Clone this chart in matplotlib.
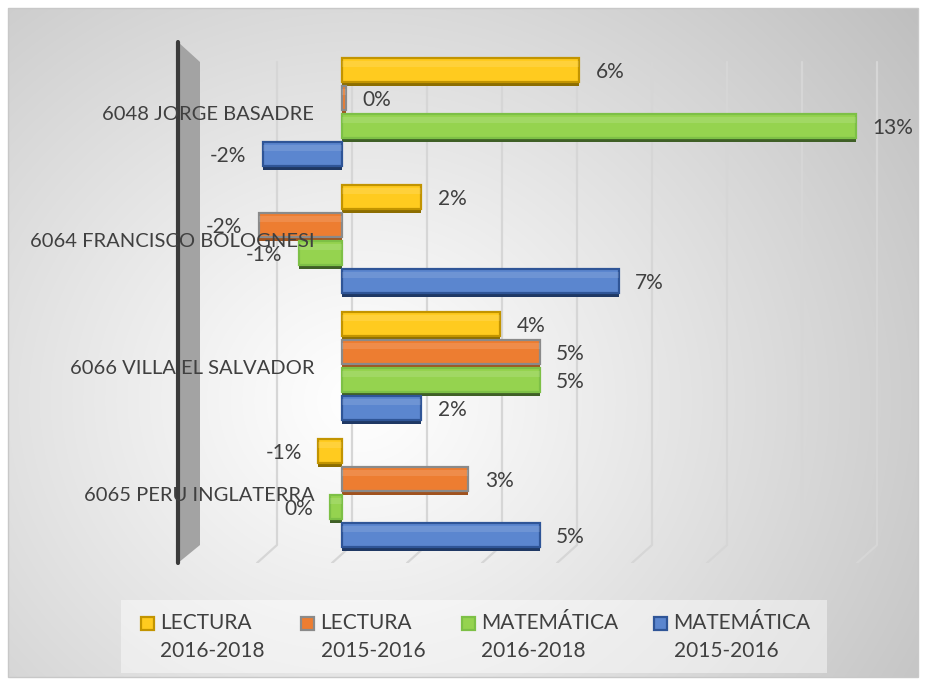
import matplotlib.pyplot as plt
import numpy as np
from matplotlib.legend_handler import HandlerPatch
from matplotlib.patches import Patch, Polygon, Rectangle

# ---- data (percent) ----
schools = [
    "6048 JORGE BASADRE",
    "6064 FRANCISCO BOLOGNESI",
    "6066 VILLA EL SALVADOR",
    "6065 PERU INGLATERRA",
]
series_labels = [
    "LECTURA\n2016-2018",
    "LECTURA\n2015-2016",
    "MATEMÁTICA\n2016-2018",
    "MATEMÁTICA\n2015-2016",
]
lectura_1618 = [6.0, 2.0, 4.0, -0.6]
lectura_1516 = [0.1, -2.1, 5.0, 3.2]
matematica_1618 = [13.0, -1.1, 5.0, -0.3]
matematica_1516 = [-2.0, 7.0, 2.0, 5.0]
grid_values = [-2, 0, 2, 4, 6, 8, 10, 12, 14]

# ---- styles ----
FACE = ["#FFCB1F", "#ED7D31", "#95D34F", "#5B86CF"]
EDGE = ["#C29400", "#8A8A8A", "#7DC046", "#2F5597"]
SHADOW = ["#8C6D00", "#A0521E", "#3F5F26", "#1F3864"]
TEXT_COLOR = "#404040"
FONT = ["Lato", "DejaVu Sans"]
FS = 15
FS_CAT = 14.5

W, H = 926, 685
PX_PER_UNIT = 39.5      # px per percent
ZERO_PX = 342
BAR_PX = 28             # px per bar slot
AX_L, AX_R, AX_T, AX_B = 178, 890, 42, 563
PITCH = 4.54            # group spacing in bar units

plt.rcParams["font.family"] = FONT

fig = plt.figure(figsize=(W / 100, H / 100), dpi=100)

# background panel with soft radial gradient
bg = fig.add_axes([0, 0, 1, 1], zorder=0)
bg.set_xlim(0, W)
bg.set_ylim(H, 0)
bg.axis("off")
yy, xx = np.mgrid[0:H, 0:W]
d = np.hypot((xx - 360) * 1.0, (yy - 400) * 1.1)
gray = 1 - 0.25 * np.clip(d / 700, 0, 1.2) ** 1.1
img = np.dstack([gray, gray, gray])
img[:8, :] = 1
img[-8:, :] = 1
img[:, :8] = 1
img[:, -8:] = 1
bg.imshow(img, extent=(0, W, H, 0), interpolation="bilinear", aspect="auto")
bg.add_patch(Rectangle((8, 8), W - 16, H - 16, fill=False, ec="#c8c8c8", lw=1))

# legend panel
bg.add_patch(Rectangle((121, 600), 706, 73, fc="white", alpha=0.45, ec="none"))

# side wall of the 3D category axis
bg.add_patch(Polygon([(178, 42), (200, 62), (200, 545), (178, 563)],
                     closed=True, fc="#a3a3a3", ec="none"))
bg.plot([178, 178], [42, 563], color="#3a3a3a", lw=3, solid_capstyle="round")

# ---- main axes ----
ax = fig.add_axes([AX_L / W, (H - AX_B) / H, (AX_R - AX_L) / W, (AX_B - AX_T) / H], zorder=2)
ax.set_xlim((AX_L - ZERO_PX) / PX_PER_UNIT, (AX_R - ZERO_PX) / PX_PER_UNIT)
y_top = -0.5 - (58 - AX_T) / BAR_PX
y_bot = y_top + (AX_B - AX_T) / BAR_PX
ax.set_ylim(y_bot, y_top)
ax.axis("off")
ax.patch.set_alpha(0)


def py2y(py):
    return y_top + (py - AX_T) / BAR_PX


# back-wall gridlines with perspective floor stub
for v in grid_values:
    xg = (10 + 37.5 * v) / PX_PER_UNIT
    ax.plot([xg, xg, xg - 20 / PX_PER_UNIT], [py2y(62), py2y(545), py2y(563)],
            color="#d6d6d6", lw=1.6, zorder=1, solid_capstyle="round")

series = [lectura_1618, lectura_1516, matematica_1618, matematica_1516]
groups = np.arange(len(schools)) * PITCH

handles = []
for j, vals in enumerate(series):
    ypos = groups + j
    ax.barh(ypos, vals, height=1.0, color=SHADOW[j], zorder=3)
    ax.barh(ypos - 0.07, vals, height=0.86, color=FACE[j],
            edgecolor=EDGE[j], linewidth=1.6, zorder=4)
    ax.barh(ypos - 0.3, vals, height=0.22, color="white", alpha=0.12,
            linewidth=0, zorder=5)
    handles.append(Patch(facecolor=FACE[j], edgecolor=EDGE[j], linewidth=1.6))
    for y, v in zip(ypos, vals):
        lbl = f"{round(v)}%"
        off = 12 if v >= 0 else -12
        ax.annotate(lbl, (v, y), xytext=(off, 0), textcoords="offset points",
                    ha="left" if v >= 0 else "right", va="center",
                    fontsize=FS, color=TEXT_COLOR, zorder=7)

for g, name in zip(groups, schools):
    ax.text(-0.7, g + 1.5, name, ha="right", va="center", fontsize=FS_CAT,
            color=TEXT_COLOR, zorder=8)


def top_square(legend, orig_handle, xdescent, ydescent, width, height, fontsize):
    # square marker aligned with the first text line
    return Rectangle((-xdescent, -ydescent + height - width * 0.8), width, width)


leg = fig.legend(handles, series_labels, loc="center",
                 bbox_to_anchor=(476 / W, 1 - 637 / H), ncol=4, frameon=False,
                 fontsize=FS, handlelength=0.62, handleheight=2.4,
                 handletextpad=0.3, columnspacing=1.75, labelcolor=TEXT_COLOR,
                 handler_map={Patch: HandlerPatch(patch_func=top_square)})
for t in leg.get_texts():
    t.set_linespacing(1.45)

fig.savefig("out.png", dpi=100)
